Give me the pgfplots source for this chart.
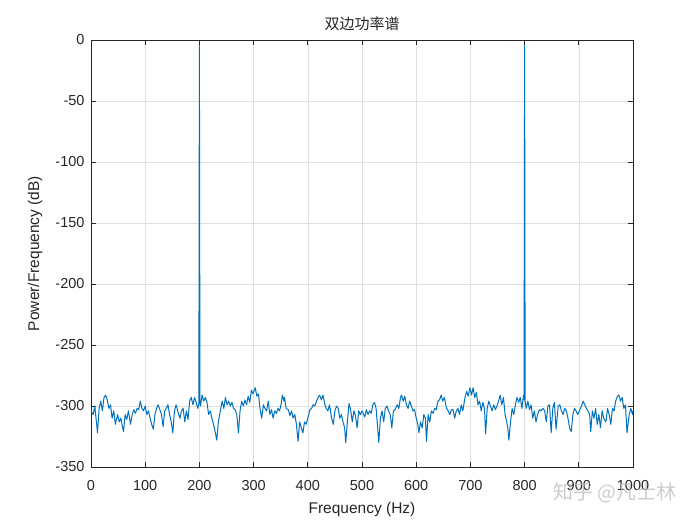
\documentclass[border=0pt]{standalone}
\usepackage{fontspec}
\setmainfont{Liberation Sans}
\newfontfamily\cjk{Noto Sans CJK SC}
\usepackage{pgfplots}
\pgfplotsset{compat=1.18}
\definecolor{mblue}{RGB}{0,114,189}
\definecolor{axgray}{RGB}{38,38,38}
\definecolor{gridgray}{RGB}{223,223,223}
\begin{document}
\begin{tikzpicture}
\path[use as bounding box] (-91pt,-58pt) rectangle (609pt,467pt);
\begin{axis}[
    at={(0pt,0pt)}, anchor=south west,
    scale only axis, width=542pt, height=427pt,
    xmin=0, xmax=1000, ymin=-350, ymax=0,
    xtick={0,100,...,1000}, ytick={-350,-300,...,0},
    grid=major, major grid style={gridgray, line width=0.6pt},
    axis line style={axgray, line width=0.7pt},
    tick style={axgray, line width=0.7pt},
    tick align=inside, major tick length=5pt,
    tick label style={font=\fontsize{14.5}{16}\selectfont, text=axgray},
    /pgf/number format/assume math mode=true,
    /pgf/number format/.cd, 1000 sep={}, /pgfplots/.cd,
    xticklabel style={yshift=-10pt},
    yticklabel style={xshift=-3pt},
    xlabel={Frequency (Hz)}, ylabel={Power/Frequency (dB)},
    label style={font=\fontsize{15.5}{17}\selectfont, text=axgray},
    xlabel style={at={(rel axis cs:0.5,0)}, anchor=center, yshift=-42pt},
    ylabel style={at={(rel axis cs:0,0.5)}, anchor=center, yshift=56pt},
    title={\cjk 双边功率谱},
    title style={at={(rel axis cs:0.5,1)}, anchor=center, yshift=10pt, font=\fontsize{15}{17}\selectfont, text=axgray},
]
\addplot[mblue, line width=1pt, line join=round] coordinates {
(0,-304) (4,-307) (7,-300) (12,-322) (15,-302) (18,-296) (21,-304) (24,-293) (27,-291) (30,-295)
(33,-302) (36,-299) (39,-310) (42,-304) (45,-315) (49,-307) (52,-313) (55,-310) (58,-317) (60,-321)
(63,-307) (66,-311) (69,-304) (73,-315) (76,-307) (79,-303) (82,-306) (85,-302) (88,-303) (91,-296)
(94,-302) (97,-304) (100,-300) (103,-307) (106,-304) (109,-310) (112,-315) (115,-319) (118,-307) (121,-302)
(124,-299) (127,-303) (130,-307) (133,-317) (136,-304) (139,-302) (142,-299) (145,-307) (148,-313) (151,-322)
(154,-304) (157,-299) (160,-304) (164,-310) (167,-304) (170,-302) (173,-313) (176,-304) (179,-311) (182,-296)
(185,-293) (188,-299) (191,-293) (194,-297) (197,-302) (199,-298) (200,-4.5) (201,-296) (202,-300) (205,-291)
(208,-296) (211,-293) (214,-297) (217,-307) (220,-304) (223,-310) (226,-315) (229,-321) (232,-328) (235,-313)
(239,-303) (242,-296) (245,-302) (248,-293) (251,-299) (254,-296) (257,-300) (260,-297) (263,-302) (266,-303)
(269,-307) (272,-322) (275,-304) (278,-296) (281,-300) (284,-295) (287,-299) (290,-292) (293,-297) (296,-287)
(299,-290) (303,-285) (306,-292) (309,-290) (312,-303) (315,-310) (318,-299) (321,-302) (324,-304) (327,-296)
(330,-307) (333,-303) (336,-310) (339,-304) (342,-306) (345,-302) (348,-304) (351,-298) (353,-291) (356,-296)
(357,-293) (360,-302) (364,-303) (367,-308) (370,-304) (373,-310) (376,-307) (379,-315) (382,-329) (385,-313)
(388,-318) (391,-322) (394,-313) (397,-315) (400,-310) (404,-303) (407,-302) (410,-299) (413,-300) (416,-296)
(419,-293) (422,-291) (425,-295) (428,-291) (431,-298) (434,-302) (437,-304) (440,-299) (444,-310) (447,-315)
(450,-304) (453,-300) (456,-302) (459,-310) (462,-307) (465,-313) (468,-318) (470,-330) (473,-313) (476,-298)
(479,-303) (482,-313) (485,-304) (488,-308) (491,-318) (494,-304) (497,-307) (500,-304) (502,-306) (505,-309)
(508,-303) (511,-307) (514,-304) (517,-306) (520,-299) (523,-297) (526,-302) (528,-313) (531,-330) (534,-310)
(537,-304) (540,-313) (543,-302) (546,-300) (549,-304) (552,-307) (555,-318) (558,-304) (561,-303) (565,-299)
(568,-302) (571,-293) (573,-291) (576,-296) (579,-292) (582,-299) (585,-302) (588,-296) (591,-300) (594,-304)
(597,-303) (600,-310) (603,-315) (605,-322) (608,-313) (611,-318) (614,-307) (617,-310) (619,-329) (622,-307)
(625,-313) (628,-304) (631,-306) (634,-302) (637,-303) (640,-296) (643,-295) (646,-291) (649,-296) (652,-293)
(656,-302) (659,-304) (662,-307) (665,-303) (668,-303) (671,-310) (674,-304) (677,-302) (680,-307) (683,-299)
(686,-304) (690,-293) (693,-288) (696,-292) (699,-285) (702,-291) (705,-285) (708,-293) (711,-289) (714,-299)
(717,-296) (720,-304) (723,-297) (726,-302) (728,-323) (731,-302) (734,-296) (737,-300) (740,-304) (743,-299)
(746,-303) (749,-300) (752,-296) (755,-291) (758,-299) (761,-293) (764,-307) (767,-313) (769,-318) (771,-328)
(774,-313) (777,-302) (780,-307) (783,-299) (786,-293) (789,-297) (792,-293) (795,-302) (798,-291) (799,-295)
(800,-4.5) (801,-296) (803,-302) (806,-296) (809,-303) (812,-299) (815,-310) (818,-304) (821,-313) (824,-307)
(827,-303) (830,-304) (834,-302) (837,-304) (840,-313) (843,-300) (846,-299) (849,-322) (852,-302) (855,-297)
(858,-319) (862,-300) (865,-299) (868,-304) (871,-307) (874,-302) (877,-304) (880,-310) (883,-318) (886,-321)
(889,-307) (892,-302) (895,-304) (898,-307) (902,-303) (905,-300) (908,-296) (911,-299) (914,-302) (917,-304)
(920,-307) (922,-321) (925,-304) (928,-310) (931,-302) (934,-315) (937,-307) (940,-318) (943,-304) (946,-310)
(950,-313) (953,-302) (956,-307) (959,-315) (962,-302) (965,-304) (968,-296) (971,-292) (974,-291) (977,-296)
(980,-293) (983,-302) (986,-299) (989,-322) (993,-307) (996,-302) (999,-307) (1000,-304)
};
\end{axis}
\node[text=black!25, opacity=0.8, font=\cjk\fontsize{20}{22}\selectfont] at (524pt,-26pt) {知乎 @凡士林};
\end{tikzpicture}
\end{document}
